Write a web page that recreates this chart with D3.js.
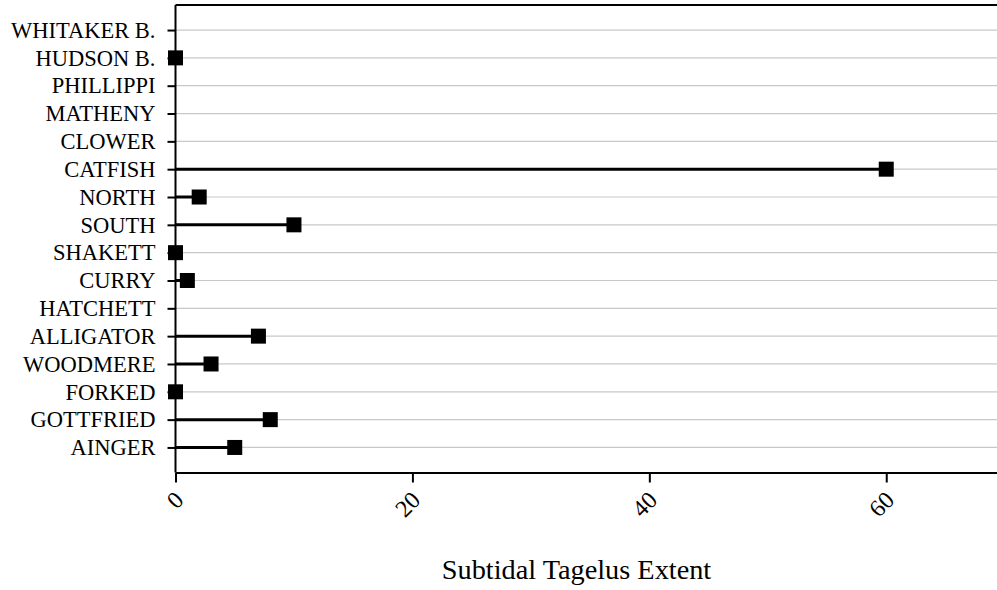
<!DOCTYPE html>
<html>
<head>
<meta charset="utf-8">
<script src="https://cdn.jsdelivr.net/npm/d3@7"></script>
<style>
  html, body { margin: 0; padding: 0; background: #fff; }
  svg { display: block; }
  text { font-family: "Liberation Serif", "Times New Roman", serif; fill: #000; }
</style>
</head>
<body>
<svg id="chart" width="997" height="590"></svg>
<script>
const categories = ["WHITAKER B.", "HUDSON B.", "PHILLIPPI", "MATHENY", "CLOWER", "CATFISH", "NORTH", "SOUTH", "SHAKETT", "CURRY", "HATCHETT", "ALLIGATOR", "WOODMERE", "FORKED", "GOTTFRIED", "AINGER"];
const values = [null, 0, null, null, null, 60, 2, 10, 0, 1, null, 7, 3, 0, 8, 5];
const xTicks = [0, 20, 40, 60];
const xTitle = "Subtidal Tagelus Extent";

const svg = d3.select("#chart");
const m = { left: 175.5, top: 5, right: 997, bottom: 472.5 };

const x = d3.scaleLinear().domain([0, 69.35]).range([m.left, m.right]);
const y = d3.scalePoint().domain(categories).range([m.top, m.bottom]).padding(0.9);

const data = categories.map((c, i) => ({ cat: c, v: values[i] }));

// grid lines
svg.append("g").selectAll("line").data(categories).join("line")
  .attr("x1", m.left).attr("x2", m.right)
  .attr("y1", d => y(d)).attr("y2", d => y(d))
  .attr("stroke", "#c8c8c8").attr("stroke-width", 1.2);

// stems
svg.append("g").selectAll("line").data(data.filter(d => d.v !== null)).join("line")
  .attr("x1", x(0)).attr("x2", d => x(d.v))
  .attr("y1", d => y(d.cat)).attr("y2", d => y(d.cat))
  .attr("stroke", "#000").attr("stroke-width", 3);

// squares
const s = 15;
svg.append("g").selectAll("rect").data(data.filter(d => d.v !== null)).join("rect")
  .attr("x", d => x(d.v) - s / 2).attr("y", d => y(d.cat) - s / 2)
  .attr("width", s).attr("height", s).attr("fill", "#000");

// top border
svg.append("line").attr("x1", m.left).attr("x2", m.right).attr("y1", m.top).attr("y2", m.top)
  .attr("stroke", "#000").attr("stroke-width", 2);

// y axis
const yAxis = svg.append("g").attr("transform", `translate(${m.left},0)`)
  .call(d3.axisLeft(y).tickSize(8).tickPadding(12).tickSizeOuter(0));
yAxis.select(".domain").attr("stroke-width", 2).attr("d", `M0,${m.top}V${m.bottom}`);
yAxis.selectAll(".tick line").attr("stroke-width", 2);
yAxis.selectAll("text").attr("font-size", 22.5).attr("font-family", "Liberation Serif");

// x axis
const xAxis = svg.append("g").attr("transform", `translate(0,${m.bottom})`)
  .call(d3.axisBottom(x).tickValues(xTicks).tickSize(10).tickSizeOuter(0).tickFormat(d3.format("d")));
xAxis.select(".domain").attr("stroke-width", 2);
xAxis.selectAll(".tick line").attr("stroke-width", 2);
xAxis.selectAll("text")
  .attr("font-size", 24).attr("font-family", "Liberation Serif")
  .attr("text-anchor", "end")
  .attr("transform", "translate(3,23) rotate(-45)")
  .attr("dy", "0.35em").attr("y", 0);

// title
svg.append("text").attr("x", 576.5).attr("y", 579)
  .attr("text-anchor", "middle").attr("font-size", 28.3).text(xTitle);
</script>
</body>
</html>
